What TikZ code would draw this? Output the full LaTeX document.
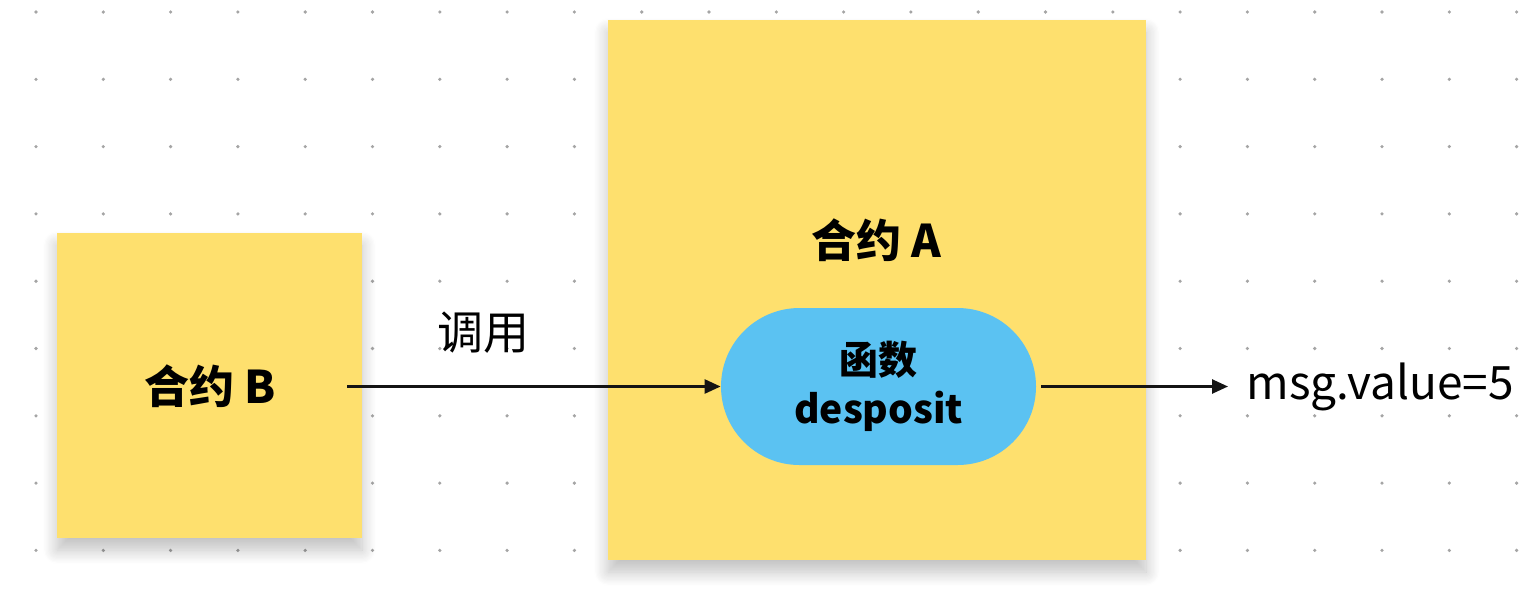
\documentclass[tikz,border=0pt]{standalone}
\usepackage{fontspec}
\setmainfont{Noto Sans CJK SC}
\usepackage{tikz}
\usetikzlibrary{positioning}
\usetikzlibrary{arrows.meta, shapes.misc, shadows.blur}
\definecolor{noteyellow}{RGB}{254,224,110}
\definecolor{fnblue}{RGB}{91,194,242}
\definecolor{dotgray}{RGB}{165,165,165}
\definecolor{inkblack}{RGB}{20,20,20}
\tikzset{
  note/.style={rectangle, fill=noteyellow, inner sep=0pt,
    blur shadow={shadow xshift=0pt, shadow yshift=-6pt, shadow blur radius=7pt, shadow opacity=25, shadow blur steps=12}},
  fnbox/.style={rounded rectangle, fill=fnblue, inner sep=0pt, minimum width=157.5pt, minimum height=78.5pt,
    align=center, font=\fontsize{19.5pt}{24.5pt}\selectfont\bfseries},
  title/.style={font=\fontsize{22.5pt}{28pt}\selectfont\bfseries, inner sep=0pt},
  plain/.style={font=\fontsize{23pt}{28pt}\selectfont, inner sep=0pt},
  call/.style={draw=inkblack, line width=1.3pt, -{Triangle[length=8pt, width=7pt]}}
}

\begin{document}
\begin{tikzpicture}[x=0.5pt,y=0.5pt,yscale=-1,xscale=1]
        \useasboundingbox (0,0) rectangle (1536,606);

        % dotted background
        \foreach \i in {0,...,22} {
          \foreach \j in {0,...,8} {
            \fill [dotgray] (36+67.3*\i,12+67.3*\j) circle (1.8);
          }
        }

        %Shape: Sticky notes
        \node [note, minimum width=152.5pt, minimum height=152.5pt] (noteB) at (209.5,385.5) {};
        \node [note, minimum width=269pt, minimum height=270pt] (noteA) at (877,290) {};

        %Shape: Function
        \node [fnbox] (fn) at (878.5,386.5) {函数\\desposit};

        % Text Node
        \node [title] (labB) at (210,386) {合约 B};
        % Text Node
        \node [title] (labA) at (876,240) {合约 A};
        % Text Node
        \node [plain] (call) at (483,333) {调用};
        % Text Node
        \node [plain, anchor=west] (msg) at (1246,386.5) {msg.value=5};

        %Straight Lines
        \draw [call] ([xshift=-7.5pt]noteB.east |- fn.west) -- (fn.west);
        \draw [call] ([xshift=2.5pt]fn.east) -- ([xshift=-9pt]msg.west |- fn.east);

    \end{tikzpicture}
\end{document}
